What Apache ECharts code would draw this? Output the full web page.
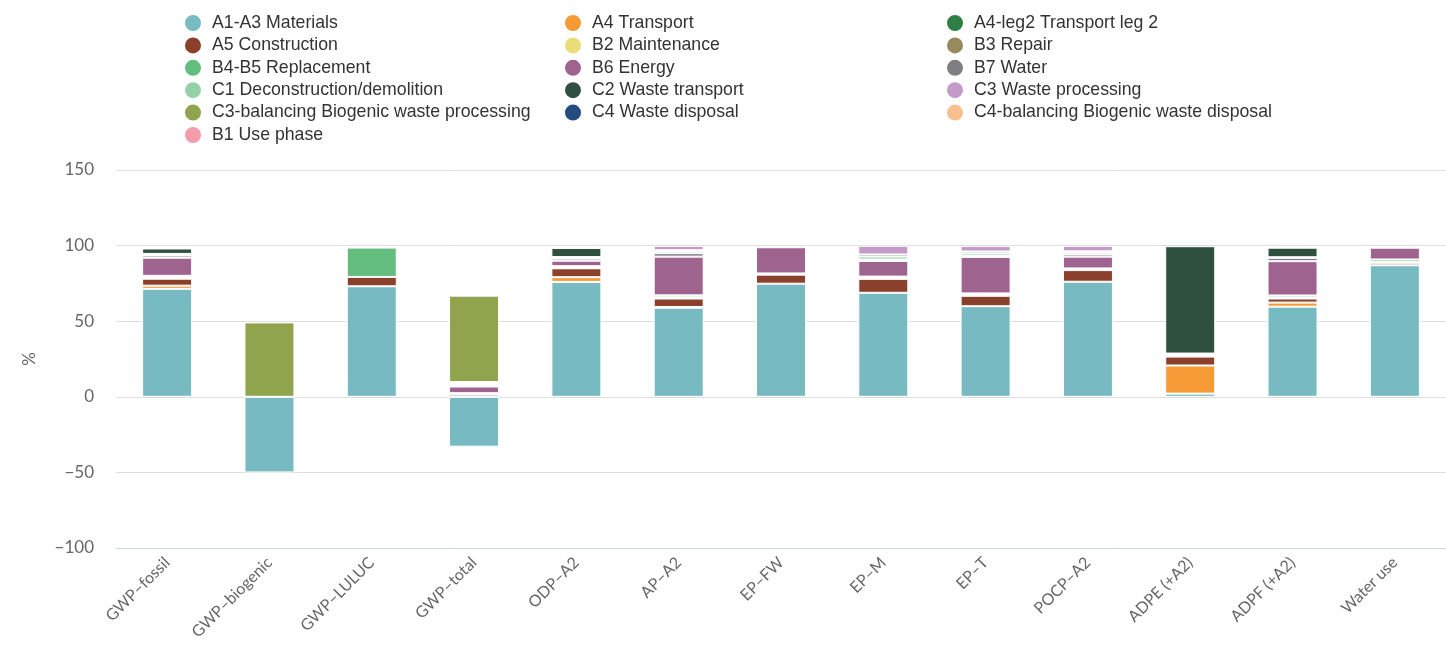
<!DOCTYPE html>
<html>
<head>
<meta charset="utf-8">
<title>Impact contribution by life-cycle module</title>
<script src="https://cdn.jsdelivr.net/npm/echarts@6/dist/echarts.min.js"></script>
<style>
  html, body { margin: 0; padding: 0; background: #ffffff; }
  #chart { width: 1446px; height: 650px; }
</style>
</head>
<body>
<div id="chart"></div>
<script>
// Impact categories on the x axis
const categories = ['GWP–fossil', 'GWP–biogenic', 'GWP–LULUC', 'GWP–total', 'ODP–A2', 'AP–A2',
  'EP–FW', 'EP–M', 'EP–T', 'POCP–A2', 'ADPE (+A2)', 'ADPF (+A2)', 'Water use'];

// Value axis range (%)
const yMin = -100;
const yMax = 150;
const yStep = 50;

// Share of each module per impact category, in %
const a1a3Materials      = [71.4, -50.0, 73.1, -33.0, 76.0, 58.9, 74.8, 68.8, 59.9, 76.1, 2.1, 59.6, 87.0];
const a4Transport        = [2.1, 0, 0, 0.3, 3.1, 0.5, 0, 0, 0, 0, 18.6, 2.7, 0];
const a4leg2Transport    = [0, 0, 0, 0, 0, 0, 0, 0, 0, 0, 0, 0, 0];
const a5Construction     = [4.6, 0, 6.2, 1.5, 5.9, 5.6, 6.0, 9.2, 6.9, 7.7, 5.9, 2.7, 1.6];
const b2Maintenance      = [0.5, 0, 0, 0.3, 0.5, 0.4, 0.5, 0.5, 0.5, 0.4, 0.4, 0.4, 0.3];
const b3Repair           = [0.5, 0, 0, 0.3, 0.4, 0.4, 0.3, 0.4, 0.5, 0.3, 0.3, 0.3, 0.3];
const b45Replacement     = [0.9, 0, 19.4, 0, 0.5, 1.3, 0, 0.6, 0.6, 0.4, 0.4, 1.3, 1.6];
const b6Energy           = [12.0, 0, 0, 4.4, 3.6, 25.6, 17.3, 10.3, 24.1, 7.8, 0.5, 22.7, 7.8];
const b7Water            = [1.5, 0, 0, 0.8, 1.4, 2.3, 0, 1.0, 0.8, 1.5, 0.2, 2.2, 0];
const c1Deconstruction   = [1.0, 0, 0, 0.8, 1.0, 1.5, 0, 2.0, 1.6, 1.2, 0.2, 0.4, 0];
const c2WasteTransport   = [3.6, 0, 0, 0.8, 6.0, 0.4, 0, 1.3, 1.2, 0.8, 71.0, 6.3, 0];
const c3WasteProcessing  = [0.4, 0, 0, 0.6, 0, 2.9, 0, 5.8, 3.6, 3.6, 0, 0, 0];
const c3balBiogenic      = [0, 49.2, 0, 57.1, 0, 0, 0, 0, 0, 0, 0, 0, 0];
const c4WasteDisposal    = [0.2, 0, 0, 0, 0, 0, 0, 0, 0, 0, 0, 0, 0];
const c4balBiogenic      = [0, 0, 0, 0, 0, 0, 0, 0, 0, 0, 0, 0, 0];
const b1UsePhase         = [0, 0, 0, 0, 0, 0, 0, 0, 0, 0, 0, 0, 0];

// Module names, in stacking order
const moduleNames = ['A1-A3 Materials', 'A4 Transport', 'A4-leg2 Transport leg 2', 'A5 Construction',
  'B2 Maintenance', 'B3 Repair', 'B4-B5 Replacement', 'B6 Energy', 'B7 Water',
  'C1 Deconstruction/demolition', 'C2 Waste transport', 'C3 Waste processing',
  'C3-balancing Biogenic waste processing', 'C4 Waste disposal',
  'C4-balancing Biogenic waste disposal', 'B1 Use phase'];

const moduleValues = [a1a3Materials, a4Transport, a4leg2Transport, a5Construction,
  b2Maintenance, b3Repair, b45Replacement, b6Energy, b7Water,
  c1Deconstruction, c2WasteTransport, c3WasteProcessing,
  c3balBiogenic, c4WasteDisposal, c4balBiogenic, b1UsePhase];

const moduleColors = ['#77bac1', '#f59a35', '#2f7f44', '#8b402c',
  '#e9dc79', '#978a5c', '#63bd7e', '#9e638e', '#7f7f83',
  '#95d1a6', '#30503f', '#c49ac8',
  '#8fa44d', '#244b80', '#f9c08f', '#f49bac'];

// Legend columns (read row by row across three columns)
const legendColumns = [
  [0, 3, 6, 9, 12, 15],
  [1, 4, 7, 10, 13],
  [2, 5, 8, 11, 14]
];

const series = moduleNames.map((name, i) => ({
  name: name,
  type: 'bar',
  stack: 'modules',
  barWidth: 50,
  itemStyle: { color: moduleColors[i], borderColor: '#ffffff', borderWidth: 1 },
  emphasis: { disabled: true },
  data: moduleValues[i].map(v => (v === 0 ? '-' : v))
}));

const legendLefts = [183, 563, 945];
const legends = legendColumns.map((col, c) => ({
  orient: 'vertical',
  left: legendLefts[c],
  top: 13,
  padding: 0,
  itemWidth: 28,
  itemHeight: 18,
  itemGap: 2.4,
  icon: 'circle',
  selectedMode: false,
  textStyle: { fontFamily: '"Liberation Sans", Arial, sans-serif', fontSize: 17.7, color: '#333333', lineHeight: 18 },
  data: col.map(i => moduleNames[i])
}));

const axisFont = 'Lato, "Open Sans", sans-serif';

const chart = echarts.init(document.getElementById('chart'), null, { renderer: 'canvas' });
chart.setOption({
  animation: false,
  backgroundColor: '#ffffff',
  legend: legends,
  grid: { left: 116, right: -19, top: 170, bottom: 102, containLabel: false },
  xAxis: {
    type: 'category',
    data: categories,
    axisLine: { onZero: false, lineStyle: { color: '#ccd6eb', width: 1 } },
    axisTick: { show: false },
    axisLabel: {
      rotate: 45,
      margin: 12,
      interval: 0,
      fontFamily: axisFont,
      fontSize: 16,
      color: '#666666'
    },
    splitLine: { show: false }
  },
  yAxis: {
    type: 'value',
    min: yMin,
    max: yMax,
    interval: yStep,
    name: '%',
    nameLocation: 'middle',
    nameGap: 78,
    nameRotate: 90,
    nameTextStyle: { fontFamily: axisFont, fontSize: 17, color: '#666666' },
    axisLine: { show: false },
    axisTick: { show: false },
    axisLabel: {
      margin: 22,
      fontFamily: axisFont,
      fontSize: 17,
      color: '#666666',
      formatter: v => (v < 0 ? '−' + Math.abs(v) : String(v))
    },
    splitLine: { lineStyle: { color: '#dedede', width: 1 } }
  },
  series: series
});
</script>
</body>
</html>
